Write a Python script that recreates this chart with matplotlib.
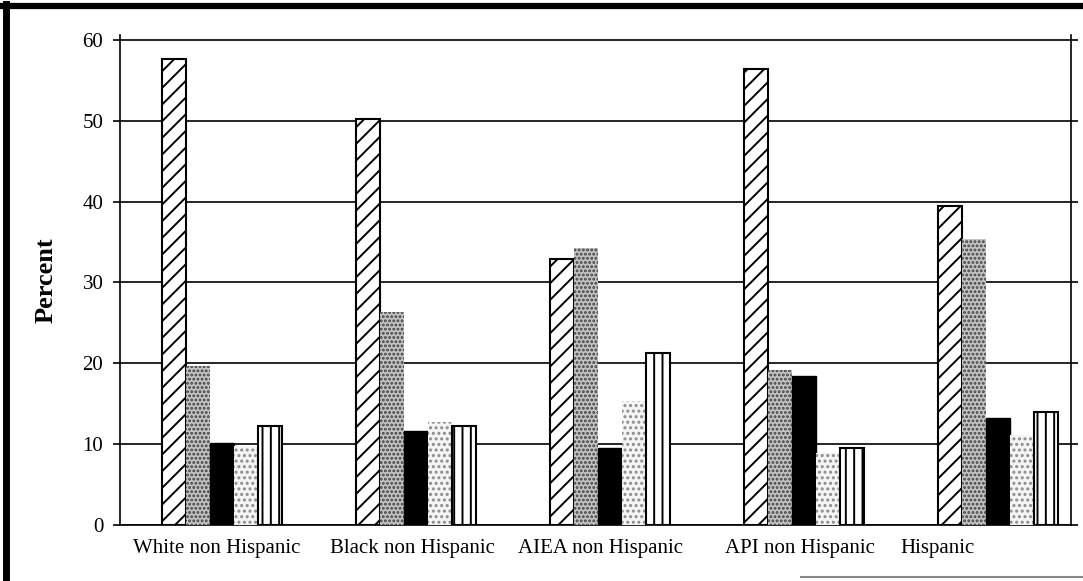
import numpy as np
import matplotlib
matplotlib.use('Agg')
import matplotlib.pyplot as plt
from matplotlib.lines import Line2D

# data
categories = ['White non Hispanic', 'Black non Hispanic', 'AIEA non Hispanic',
              'API non Hispanic', 'Hispanic']
series_a = [57.6, 50.2, 32.9, 56.4, 39.4]   # diagonal hatch
series_b = [19.7, 26.3, 34.3, 19.2, 35.4]   # dark speckle
series_c = [10.1, 11.6, 9.5, 18.4, 13.2]    # solid black
series_d = [9.8, 12.7, 15.3, 8.9, 11.1]     # light speckle
series_e = [12.2, 12.3, 21.3, 9.5, 14.0]    # vertical stripes
yticks = [0, 10, 20, 30, 40, 50, 60]

plt.rcParams['font.family'] = ['Liberation Serif', 'DejaVu Serif']
plt.rcParams['hatch.linewidth'] = 1.4

fig = plt.figure(figsize=(10.83, 5.81), dpi=100)
ax = fig.add_axes([0.1108, 0.0964, 0.878, 0.8434])

x = np.arange(len(categories))
w = 0.124
styles = [
    dict(data=series_a, facecolor='white', edgecolor='black', hatch='//', lw=1.5),
    dict(data=series_b, facecolor='#c4c4c4', edgecolor='#404040', hatch='....', lw=0),
    dict(data=series_c, facecolor='black', edgecolor='black', hatch=None, lw=1),
    dict(data=series_d, facecolor='#f4f4f4', edgecolor='#8a8a8a', hatch='...', lw=0),
    dict(data=series_e, facecolor='white', edgecolor='black', hatch='||', lw=1.5),
]
for i, s in enumerate(styles):
    ax.bar(x + (i - 2) * w, s['data'], width=w, facecolor=s['facecolor'],
           edgecolor=s['edgecolor'], hatch=s['hatch'], linewidth=s['lw'], zorder=3)

ax.set_xlim(-0.526, 4.376)
ax.set_ylim(0, 60.6)
ax.set_yticks(yticks)
ax.yaxis.grid(True, color='black', linewidth=1.2, zorder=0)
ax.set_axisbelow(True)

# labels sit left of the bar groups, as in the source
label_shift = [-0.03, -0.02, -0.05, -0.02, -0.31]
ax.set_xticks(x + np.array(label_shift))
ax.set_xticklabels(categories, fontsize=15)
ax.tick_params(axis='x', length=0, pad=10)
ax.tick_params(axis='y', direction='out', length=5, width=1.2, labelsize=15, pad=7,
               right=True)
ax.set_ylabel('Percent', fontsize=19, fontweight='bold', labelpad=18)

for side in ['left', 'bottom', 'right']:
    ax.spines[side].set_linewidth(1.2)
ax.spines['top'].set_visible(False)

# frame of the scanned figure
fig.add_artist(Line2D([0, 1], [0.9905, 0.9905], color='black', lw=4.5,
                      transform=fig.transFigure))
fig.add_artist(Line2D([0.006, 0.006], [0, 0.993], color='black', lw=5,
                      transform=fig.transFigure))
fig.add_artist(Line2D([0.74, 1], [0.007, 0.007], color='#888888', lw=1.5,
                      transform=fig.transFigure))

fig.savefig('out.png', dpi=100)
